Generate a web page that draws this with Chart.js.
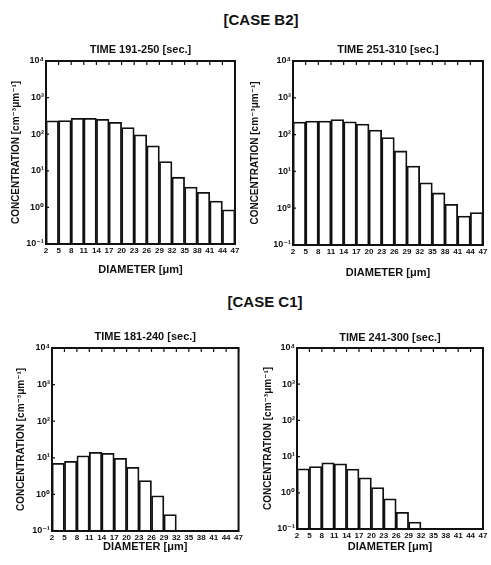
<!DOCTYPE html>
<html>
<head>
<meta charset="utf-8">
<script src="https://cdn.jsdelivr.net/npm/chart.js@4.4.1/dist/chart.umd.min.js"></script>
<style>
  html, body { margin: 0; padding: 0; background: #fff; }
  body { width: 491px; height: 565px; position: relative; overflow: hidden; font-family: "Liberation Sans", "DejaVu Sans", sans-serif; }
  canvas { position: absolute; }
  .case { position: absolute; font: bold 15px "Liberation Sans", "DejaVu Sans", sans-serif; color: #111; transform: translate(-50%, -50%); white-space: nowrap; }
</style>
</head>
<body>
<div class="case" style="left:261px; top:19px;">[CASE B2]</div>
<div class="case" style="left:265px; top:301px;">[CASE C1]</div>
<canvas id="c1" width="245" height="240" style="left:0px; top:40px;"></canvas>
<canvas id="c2" width="246" height="240" style="left:245px; top:40px;"></canvas>
<canvas id="c3" width="245" height="245" style="left:0px; top:320px;"></canvas>
<canvas id="c4" width="246" height="245" style="left:245px; top:320px;"></canvas>
<script>
// Bin edges (diameter, µm) used as x tick labels
const diameterTicks = [2, 5, 8, 11, 14, 17, 20, 23, 26, 29, 32, 35, 38, 41, 44, 47];
// Decade exponents for y ticks
const decadeExps = [-1, 0, 1, 2, 3, 4];

// Panel titles
const titleB2a = 'TIME 191-250 [sec.]';
const titleB2b = 'TIME 251-310 [sec.]';
const titleC1a = 'TIME 181-240 [sec.]';
const titleC1b = 'TIME 241-300 [sec.]';

// Concentration per bin (cm^-3 µm^-1), one value per bin between consecutive ticks
const concB2a = [231, 236, 273, 273, 256, 212, 152, 96, 48, 18, 6.7, 3.6, 2.6, 1.5, 0.86];
const concB2b = [220, 234, 234, 255, 224, 194, 133, 83, 36, 14, 4.9, 2.6, 1.27, 0.61, 0.76];
const concC1a = [7.1, 8.0, 11.4, 14.1, 13.2, 9.7, 5.5, 2.4, 0.92, 0.28, null, null, null, null, null];
const concC1b = [4.6, 5.3, 6.7, 6.3, 4.5, 2.6, 1.4, 0.68, 0.29, 0.156, null, null, null, null, null];

const sup = {'-':'\u207B','0':'\u2070','1':'\u00B9','2':'\u00B2','3':'\u00B3','4':'\u2074','5':'\u2075','6':'\u2076','7':'\u2077','8':'\u2078','9':'\u2079'};
function supText(n){ return String(n).split('').map(c => sup[c]).join(''); }

const FONT = '"Liberation Sans", "DejaVu Sans", sans-serif';

const framePlugin = {
  id: 'frame',
  afterDraw(chart) {
    const {ctx, chartArea: a, scales} = chart;
    ctx.save();
    ctx.strokeStyle = '#111';
    ctx.lineWidth = 1.2;
    ctx.beginPath();
    diameterTicks.forEach(v => {
      const x = scales.x.getPixelForValue(v);
      ctx.moveTo(x, a.top); ctx.lineTo(x, a.top + 4);
    });
    decadeExps.forEach(e => {
      const y = scales.y.getPixelForValue(Math.pow(10, e));
      ctx.moveTo(a.left, y); ctx.lineTo(a.left + 3, y);
    });
    ctx.stroke();
    ctx.lineWidth = 2;
    ctx.strokeRect(a.left, a.top, a.right - a.left, a.bottom - a.top);
    ctx.restore();
  }
};

function makeChart(id, title, values, g) {
  const data = values.map((v, i) => ({ x: (diameterTicks[i] + diameterTicks[i + 1]) / 2, y: v }));
  new Chart(document.getElementById(id), {
    type: 'bar',
    data: {
      datasets: [{
        data: data,
        backgroundColor: '#ffffff',
        borderColor: '#111111',
        borderWidth: 1.8,
        barPercentage: 1.0,
        categoryPercentage: 1.0
      }]
    },
    options: {
      responsive: false,
      animation: false,
      devicePixelRatio: 1,
      layout: { padding: { top: 0, right: g.padRight, left: 0, bottom: 0 } },
      plugins: {
        legend: { display: false },
        tooltip: { enabled: false },
        title: {
          display: true,
          text: title,
          fullSize: false,
          color: '#111',
          font: { family: FONT, size: 11, weight: 'bold' },
          padding: { top: g.titleTop, bottom: g.titleBottom }
        }
      },
      scales: {
        x: {
          type: 'linear',
          min: 2, max: 47,
          offset: false,
          grid: { display: false, drawTicks: false },
          border: { display: false },
          afterBuildTicks: s => { s.ticks = diameterTicks.map(v => ({ value: v })); },
          afterFit: s => { s.height = g.xHeight; },
          ticks: {
            autoSkip: false, maxRotation: 0, minRotation: 0, padding: 2,
            color: '#111',
            font: { family: FONT, size: 8, weight: 'bold' },
            callback: v => String(v)
          },
          title: {
            display: true,
            text: 'DIAMETER [\u03BCm]',
            color: '#111',
            font: { family: FONT, size: 11, weight: 'bold' },
            padding: { top: 0, bottom: g.xTitleBottom }
          }
        },
        y: {
          type: 'logarithmic',
          min: Math.pow(10, decadeExps[0]),
          max: Math.pow(10, decadeExps[decadeExps.length - 1]),
          grid: { display: false, drawTicks: false },
          border: { display: false },
          afterBuildTicks: s => { s.ticks = decadeExps.map(e => ({ value: Math.pow(10, e) })); },
          afterFit: s => { s.width = g.yWidth; },
          ticks: {
            padding: 2,
            color: '#111',
            font: { family: FONT, size: 9, weight: 'bold' },
            callback: v => '10' + supText(Math.round(Math.log10(v)))
          },
          title: {
            display: true,
            text: 'CONCENTRATION [cm\u207B\u00B3\u03BCm\u207B\u00B9]',
            color: '#111',
            font: { family: FONT, size: 10, weight: 'bold' },
            padding: { top: g.yTitleTop, bottom: 0 }
          }
        }
      }
    },
    plugins: [framePlugin]
  });
}

makeChart('c1', titleB2a, concB2a, { padRight: 10, titleTop: 3.4, titleBottom: 4.4, xHeight: 36, xTitleBottom: 3.4, yWidth: 46, yTitleTop: 10 });
makeChart('c2', titleB2b, concB2b, { padRight: 8, titleTop: 3.4, titleBottom: 4.4, xHeight: 35, xTitleBottom: 0.4, yWidth: 48, yTitleTop: 4 });
makeChart('c3', titleC1a, concC1a, { padRight: 6, titleTop: 10.4, titleBottom: 4.4, xHeight: 34, xTitleBottom: 11.4, yWidth: 52, yTitleTop: 15 });
makeChart('c4', titleC1b, concC1b, { padRight: 8, titleTop: 11.4, titleBottom: 3.4, xHeight: 36, xTitleBottom: 11.4, yWidth: 52, yTitleTop: 17 });
</script>
</body>
</html>
